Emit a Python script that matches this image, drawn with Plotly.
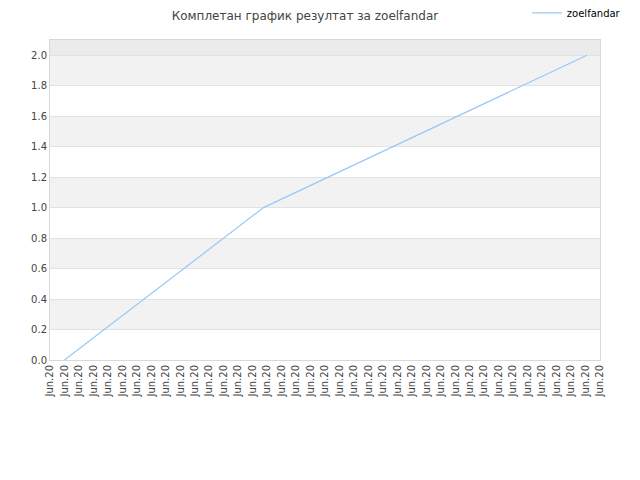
import plotly.graph_objects as go

title_text = "Комплетан график резултат за zoelfandar"
series_name = "zoelfandar"
tick_labels = ["Jun.20"] * 39
x_points = [1, 14.75, 37.1]
y_points = [0.0, 1.0, 2.0]
y_ticks = [0.0, 0.2, 0.4, 0.6, 0.8, 1.0, 1.2, 1.4, 1.6, 1.8, 2.0]

fig = go.Figure()
fig.add_trace(go.Scatter(
    x=x_points, y=y_points, mode="lines", name=series_name,
    line=dict(color="#99c8f6", width=1.2),
    showlegend=True,
))

shapes = []
for i in range(len(y_ticks) - 1):
    if i % 2 == 1:
        shapes.append(dict(type="rect", xref="paper", yref="y", x0=0, x1=1,
                           y0=y_ticks[i], y1=y_ticks[i + 1],
                           fillcolor="#f2f2f2", line=dict(width=0), layer="below"))
shapes.append(dict(type="rect", xref="paper", yref="y", x0=0, x1=1,
                   y0=y_ticks[-1], y1=2.1,
                   fillcolor="#ebebeb", line=dict(width=0), layer="below"))

fig.update_layout(
    width=640, height=480,
    margin=dict(l=42, r=48, t=32, b=128, autoexpand=False),
    paper_bgcolor="white", plot_bgcolor="white",
    font=dict(family="DejaVu Sans", size=10, color="#444"),
    title=dict(text=title_text, x=0.464, xanchor="center", y=0.984, yanchor="middle",
               font=dict(size=12, color="#444")),
    legend=dict(orientation="h", x=1.047, xanchor="right", yref="container",
                y=0.99, yanchor="middle",
                font=dict(size=10, color="#000"), bgcolor="rgba(0,0,0,0)"),
    shapes=shapes,
    xaxis=dict(range=[0, 38], tickmode="array", tickvals=list(range(len(tick_labels))),
               ticktext=tick_labels, tickangle=-90, showgrid=False, zeroline=False,
               showline=True, linecolor="#d8d8d8", linewidth=1, mirror=True,
               ticks="", automargin=False, tickfont=dict(size=10, color="#444")),
    yaxis=dict(range=[0, 2.1], tickmode="array", tickvals=y_ticks,
               ticktext=[f"{v:.1f}" for v in y_ticks],
               showgrid=True, gridcolor="#e2e2e2", gridwidth=1, zeroline=False,
               showline=True, linecolor="#d8d8d8", linewidth=1, mirror=True,
               ticks="", automargin=False, tickfont=dict(size=10, color="#444")),
)

fig.write_html("out.html")
